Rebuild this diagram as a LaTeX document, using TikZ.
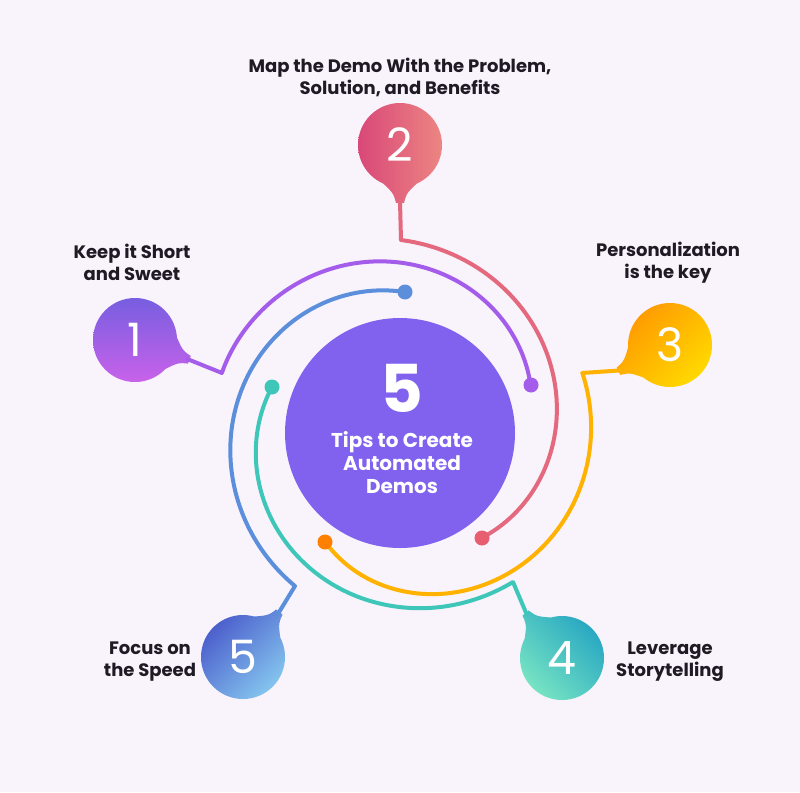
\documentclass[tikz,border=0pt]{standalone}
\usepackage{fontspec}
\setmainfont{Poppins}
\usetikzlibrary{calc}
\definecolor{bg}{HTML}{F9F3FB}
\definecolor{ink}{HTML}{1E1B24}
\definecolor{ctr}{HTML}{8062EE}
\tikzset{
 lab/.style={font=\bfseries\fontsize{18}{22}\selectfont, text=ink, align=center},
 con/.style={line width=4pt, line join=round, line cap=round},
 dotn/.style={circle, minimum size=15pt, inner sep=0pt},
 num/.style={font=\fontsize{46}{46}\selectfont, text=white}
}
\newcommand\mybadge[8]{% name, x, y, angle, color1, color2, shading angle, number
 \coordinate (#1) at (#2,#3);
 \path[left color=#5, right color=#6, shading angle=#7]
   (#1) circle (42)
   ([shift={(#4-38:40)}]#1) .. controls ([shift={(#4-8:48)}]#1) .. ([shift={(#4-4:58)}]#1)
   -- ([shift={(#4+4:58)}]#1) .. controls ([shift={(#4+8:48)}]#1) .. ([shift={(#4+38:40)}]#1) -- cycle;
 \coordinate (#1tip) at ([shift={(#4:56)}]#1);
 \node[num] (#1n) at (#1) {#8};
}
\begin{document}
\begin{tikzpicture}[x=1pt,y=-1pt]
\fill[bg] (0,0) rectangle (800,792);
\useasboundingbox (0,0) rectangle (800,792);
\node[circle, fill=ctr, minimum size=230pt, inner sep=0pt] (c) at (400,433) {};
\node[font=\bfseries\fontsize{66}{66}\selectfont, text=white] (c5) at (402,388) {5};
\node[font=\bfseries\fontsize{20}{23}\selectfont, text=white, align=center] (ct) at (402,463) {Tips to Create\\Automated\\Demos};

\definecolor{b1a}{HTML}{775EE0}\definecolor{b1b}{HTML}{C862EA}
\definecolor{b2a}{HTML}{D94878}\definecolor{b2b}{HTML}{EC8582}
\definecolor{b3a}{HTML}{FF9800}\definecolor{b3b}{HTML}{FFD800}
\definecolor{b4a}{HTML}{76E3C3}\definecolor{b4b}{HTML}{26A6C2}
\definecolor{b5a}{HTML}{4A5CCB}\definecolor{b5b}{HTML}{84C4EE}
\mybadge{b1}{135}{340}{20}{b1a}{b1b}{0}{1}
\mybadge{b2}{400}{145}{90}{b2a}{b2b}{90}{2}
\mybadge{b3}{670}{345}{153}{b3a}{b3b}{45}{3}
\mybadge{b4}{562}{658}{231}{b4a}{b4b}{135}{4}
\mybadge{b5}{243}{657}{309}{b5a}{b5b}{45}{5}

\definecolor{c1}{HTML}{A45CEA}
\definecolor{c2}{HTML}{E4687E}
\definecolor{c3}{HTML}{FFB300}
\definecolor{c4}{HTML}{3EC7B9}
\definecolor{c5}{HTML}{5B8FDC}

\coordinate (d1) at (531,385);
\coordinate (d2) at (482,538);
\coordinate (d3) at (325,542);
\coordinate (d4) at (272,387);
\coordinate (d5) at (405,292);

\coordinate (k1) at (222,373);
\coordinate (k2) at (401,240);
\coordinate (k3) at (582,373);
\coordinate (k4) at (513,582);
\coordinate (k5) at (295,586);

\draw[con, c1, declare function={tt(\x)=abs((\x-198.6)/141.4); rr(\x)=188-49*tt(\x)*sqrt(tt(\x));}]
  (b1tip) -- (k1) -- plot[domain=198.6:340, samples=80, smooth] ({400+rr(\x)*cos(\x)}, {433+rr(\x)*sin(\x)});
\draw[con, c2, declare function={tt(\x)=abs((\x-270.3)/141.7); rr(\x)=193-60*tt(\x);}]
  (b2tip) -- (k2) -- plot[domain=270.3:412, samples=80, smooth] ({400+rr(\x)*cos(\x)}, {433+rr(\x)*sin(\x)});
\draw[con, c3, declare function={tt(\x)=abs((\x-341.8)/142.7); rr(\x)=192-60*tt(\x)*tt(\x);}]
  (b3tip) -- (k3) -- plot[domain=341.8:484.5, samples=80, smooth] ({400+rr(\x)*cos(\x)}, {433+rr(\x)*sin(\x)});
\draw[con, c4, declare function={tt(\x)=abs((\x-52.8)/147); rr(\x)=187-51*tt(\x);}]
  (b4tip) -- (k4) -- plot[domain=52.8:199.8, samples=80, smooth] ({400+rr(\x)*cos(\x)}, {433+rr(\x)*sin(\x)});
\draw[con, c5, declare function={tt(\x)=abs((\x-124.5)/147.5); rr(\x)=185.6-44.6*tt(\x);}]
  (b5tip) -- (k5) -- plot[domain=124.5:272, samples=80, smooth] ({400+rr(\x)*cos(\x)}, {433+rr(\x)*sin(\x)});
\node[dotn, fill=c1] (n1) at (d1) {};
\node[dotn, fill=c2!90!red] (n2) at (d2) {};
\node[dotn, fill=orange] (n3) at (d3) {};
\node[dotn, fill=c4] (n4) at (d4) {};
\node[dotn, fill=c5] (n5) at (d5) {};

\node[lab] (l1) at (132,262) {Keep it Short\\and Sweet};
\node[lab] (l2) at (400,77) {Map the Demo With the Problem,\\Solution, and Benefits};
\node[lab] (l3) at (668,263) {Personalization\\is the key};
\node[lab] (l4) at (670,662) {Leverage\\Storytelling};
\node[lab] (l5) at (150,662) {Focus on\\the Speed};
\end{tikzpicture}
\end{document}
